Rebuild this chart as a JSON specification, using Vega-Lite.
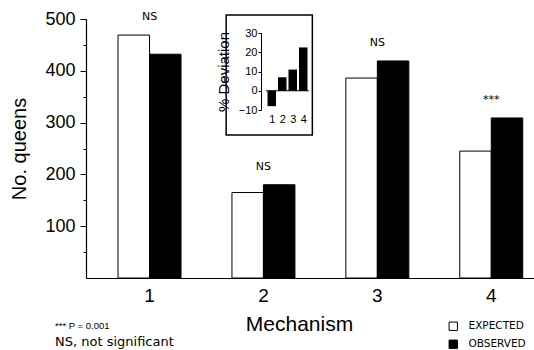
{
  "$schema": "https://vega.github.io/schema/vega-lite/v6.json",
  "width": 448,
  "height": 259,
  "autosize": "none",
  "padding": {"left": 86, "top": 19, "right": 0, "bottom": 72},
  "background": "white",
  "config": {
    "font": "Liberation Sans",
    "view": {"stroke": null},
    "axis": {"domainColor": "black", "tickColor": "black", "labelColor": "black", "titleColor": "black", "grid": false, "titleFontWeight": "normal"}
  },
  "title": {
    "text": "***    P = 0.001",
    "subtitle": "NS, not significant",
    "orient": "bottom",
    "anchor": "start",
    "frame": "group",
    "dx": -31,
    "offset": -30,
    "fontSize": 9.5,
    "fontWeight": "normal",
    "color": "black",
    "subtitleFontSize": 13,
    "subtitleFont": "DejaVu Sans",
    "subtitleColor": "black",
    "subtitlePadding": 5
  },
  "resolve": {
    "scale": {"x": "independent", "y": "independent"},
    "axis": {"x": "independent", "y": "independent"}
  },
  "layer": [
    {
      "data": {
        "values": [
          {"mechanism": "1", "series": "EXPECTED", "queens": 469, "sig": "NS"},
          {"mechanism": "1", "series": "OBSERVED", "queens": 432, "sig": "NS"},
          {"mechanism": "2", "series": "EXPECTED", "queens": 165, "sig": "NS"},
          {"mechanism": "2", "series": "OBSERVED", "queens": 180, "sig": "NS"},
          {"mechanism": "3", "series": "EXPECTED", "queens": 386, "sig": "NS"},
          {"mechanism": "3", "series": "OBSERVED", "queens": 419, "sig": "NS"},
          {"mechanism": "4", "series": "EXPECTED", "queens": 245, "sig": "***"},
          {"mechanism": "4", "series": "OBSERVED", "queens": 309, "sig": "***"}
        ]
      },
      "resolve": {"axis": {"y": "independent"}},
      "layer": [
        {
          "mark": {"type": "bar", "stroke": "black", "strokeWidth": 1},
          "encoding": {
            "x": {
              "field": "mechanism", "type": "nominal",
              "scale": {"paddingInner": 0.447, "paddingOuter": 0.19, "align": 0.74},
              "axis": {
                "orient": "bottom", "labelAngle": 0, "ticks": false, "labelFontSize": 19, "labelPadding": 8,
                "title": "Mechanism", "titleFontSize": 21, "titlePadding": 8, "titleX": 213, "domainWidth": 1.2
              }
            },
            "xOffset": {"field": "series", "type": "nominal", "scale": {"paddingInner": 0, "paddingOuter": 0}},
            "y": {
              "field": "queens", "type": "quantitative",
              "scale": {"domain": [0, 500], "nice": false},
              "axis": {
                "orient": "left",
                "values": [100, 200, 300, 400, 500],
                "tickSize": 6,
                "labelFontSize": 18, "labelPadding": 5,
                "title": "No. queens", "titleFontSize": 20, "titlePadding": 15, "domainWidth": 1.2
              }
            },
            "fill": {
              "field": "series", "type": "nominal",
              "scale": {"domain": ["EXPECTED", "OBSERVED"], "range": ["white", "black"]},
              "legend": {
                "title": null, "orient": "none", "legendX": 362, "legendY": 302,
                "symbolType": "square", "symbolSize": 70, "symbolStrokeColor": "black", "symbolStrokeWidth": 1,
                "labelFontSize": 10.5, "labelFont": "DejaVu Sans", "labelColor": "black", "rowPadding": 5, "labelOffset": 10
              }
            }
          }
        },
        {
          "mark": {"type": "text", "baseline": "middle", "dy": -18, "fontSize": 11, "font": "DejaVu Sans", "fill": "black"},
          "encoding": {
            "x": {"field": "mechanism", "type": "nominal"},
            "y": {
              "aggregate": "max", "field": "queens", "type": "quantitative",
              "axis": {
                "orient": "left", "values": [50, 150, 250, 350, 450], "tickSize": 3,
                "labels": false, "domain": false, "title": null
              }
            },
            "text": {"field": "sig", "type": "nominal"}
          }
        }
      ]
    },
    {
      "layer": [
        {
          "data": {"values": [{}]},
          "mark": {"type": "rect", "fill": "white", "stroke": "black", "strokeWidth": 1.5},
          "encoding": {
            "x": {"datum": -3.35, "type": "quantitative", "scale": {"domain": [0.45, 4.55], "range": [175, 228], "nice": false, "zero": false}},
            "x2": {"datum": 4.87},
            "y": {"datum": 39.35, "type": "quantitative", "scale": {"domain": [-10, 30], "range": [91, 14], "nice": false}},
            "y2": {"datum": -23}
          }
        },
        {
          "data": {
            "values": [
              {"mech": 1, "dev": -8},
              {"mech": 2, "dev": 7},
              {"mech": 3, "dev": 11},
              {"mech": 4, "dev": 22.5}
            ]
          },
          "mark": {"type": "bar", "fill": "black", "size": 8.5},
          "encoding": {
            "x": {
              "field": "mech", "type": "quantitative",
              "axis": {
                "orient": "bottom", "offset": -168, "values": [1, 2, 3, 4], "format": "d", "labelOverlap": false, "labelFlush": false,
                "domain": false, "ticks": false,
                "labelFontSize": 11, "labelPadding": 3, "title": null, "grid": false, "zindex": 2
              }
            },
            "y": {
              "field": "dev", "type": "quantitative",
              "axis": {
                "orient": "left", "offset": -175, "values": [-10, 0, 10, 20, 30], "tickSize": 3, "labelFlush": false, "labelOverlap": false,
                "labelFontSize": 11, "labelPadding": 1, "title": "% Deviation", "titleFontSize": 15, "titlePadding": 7, "zindex": 2
              }
            }
          }
        },
        {
          "data": {"values": [{}]},
          "mark": {"type": "rule", "stroke": "black", "strokeWidth": 1},
          "encoding": {
            "x": {"datum": 0.45, "type": "quantitative"},
            "x2": {"datum": 4.55},
            "y": {"datum": 0, "type": "quantitative"}
          }
        }
      ]
    }
  ]
}
